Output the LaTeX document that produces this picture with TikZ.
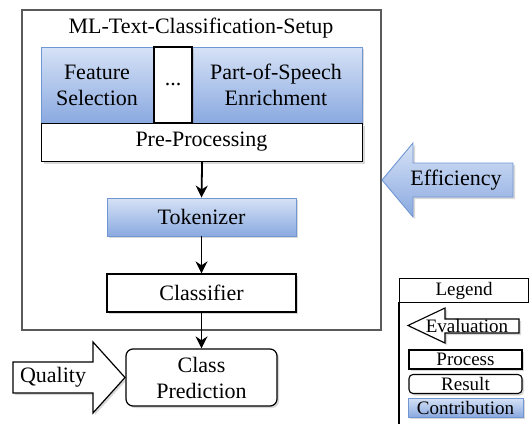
\documentclass[tikz,border=0pt]{standalone}
\usepackage{fontspec}
\setmainfont{Liberation Serif}
\usetikzlibrary{arrows.meta,shadows,calc}

\definecolor{contribTop}{RGB}{214,226,246}
\definecolor{contribBot}{RGB}{138,169,224}
\definecolor{contribLine}{RGB}{112,150,212}
\definecolor{frameGray}{RGB}{90,90,90}

\tikzset{
  every node/.style={font=\fontsize{22}{26}\selectfont, align=center, inner sep=0pt},
  softshadow/.style={drop shadow={shadow xshift=2pt, shadow yshift=-2pt, opacity=0.25, fill=black!60}},
  contrib/.style={draw=contribLine, line width=0.9pt, top color=contribTop, bottom color=contribBot, softshadow},
  process/.style={draw=black, line width=1.2pt, fill=white, softshadow},
  result/.style={draw=black, line width=1.2pt, fill=white, rounded corners=7pt, softshadow},
  flow/.style={line width=1.8pt, -{Stealth[length=12pt,width=12pt]}},
  smalltext/.style={font=\fontsize{19}{21}\selectfont},
}

\begin{document}
\begin{tikzpicture}[x=1pt,y=-1pt]
\useasboundingbox[fill=white] (0,0) rectangle (529,423);

% setup container
\draw[frameGray, line width=1.3pt] (22,10) rectangle (381,330);
\node (title) at (201,28) {ML-Text-Classification-Setup};

% pre-processing steps
\path[contrib] (41,47) rectangle (362,123);
\node[process, minimum width=38pt, minimum height=76pt] (dots) at (173,85) {...};
\node (feat) at (97,85) {Feature\\Selection};
\node (pos) at (276,85) {Part-of-Speech\\Enrichment};
\node[process, minimum width=321pt, minimum height=38pt, anchor=north west] (pre) at (41,123) {};
\node (pretext) at (201.5,142) {Pre-Processing};

\node[contrib, minimum width=189pt, minimum height=38pt] (tok) at (201.5,217) {Tokenizer};
\node[process, minimum width=189pt, minimum height=38pt] (cls) at (201.5,293) {Classifier};
\node[result, minimum width=151pt, minimum height=57pt] (pred) at (201.5,377.5) {Class\\Prediction};

\draw[flow] (pre.south) -- (tok.north);
\draw[flow] (tok.south) -- (cls.north);
\draw[flow] (cls.south) -- (pred.north);

% quality arrow
\draw[line width=1.2pt, fill=white, softshadow, line join=miter]
  (13,362) -- (93,362) -- (93,342) -- (125,377.5) -- (93,413) -- (93,393) -- (13,393) -- cycle;
\node (quality) at (53,377.5) {Quality};
\coordinate (qtip) at (125,377.5);

% efficiency arrow
\draw[contrib]
  (513,163) -- (413,163) -- (413,143) -- (382,180) -- (413,217) -- (413,197) -- (513,197) -- cycle;
\node (eff) at (456,180) {Efficiency};

% legend
\draw[line width=1.2pt] (399,302) -- (399,440);
\node[draw, line width=1.2pt, minimum width=129pt, minimum height=24pt, anchor=north west, smalltext] (leg) at (399,278) {Legend};
\draw[line width=1.1pt, fill=white, softshadow]
  (519,319) -- (445,319) -- (445,308) -- (408,325.5) -- (445,343) -- (445,333) -- (519,333) -- cycle;
\node[smalltext] (leval) at (467,326) {Evaluation};
\node[process, line width=1.1pt, minimum width=113pt, minimum height=19pt, smalltext] (lproc) at (465.5,359.5) {Process};
\node[result, line width=1.1pt, rounded corners=4pt, minimum width=113pt, minimum height=19pt, smalltext] (lres) at (465.5,384) {Result};
\node[contrib, minimum width=115pt, minimum height=19pt, smalltext] (lcon) at (465.5,407.5) {Contribution};
\end{tikzpicture}
\end{document}
